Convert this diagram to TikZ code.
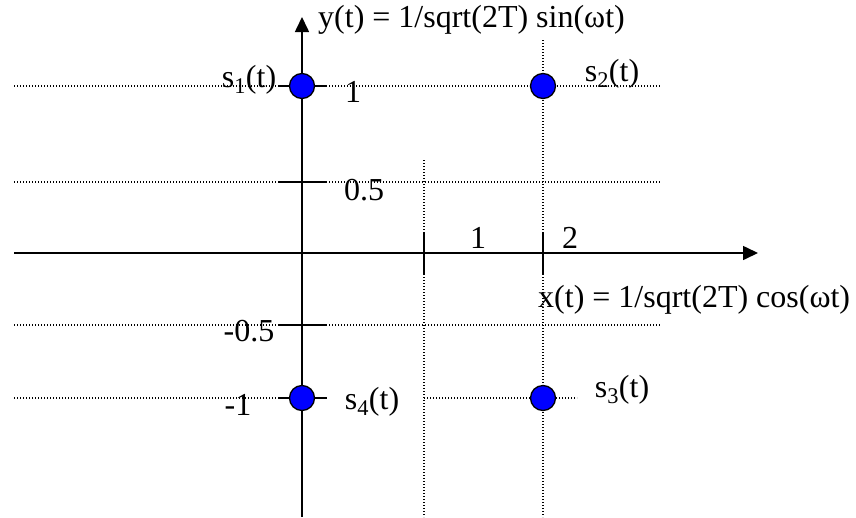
\documentclass[tikz,border=0pt]{standalone}
\usepackage{fontspec}
\setmainfont{Liberation Serif}
\usetikzlibrary{arrows.meta,positioning}
\definecolor{DotBlue}{HTML}{0000FF}

\begin{document}
\begin{tikzpicture}[
	x=1pt, y=-1pt,
	axis/.style={-{Triangle[length=15pt,width=14pt]}, line width=1.6pt},
	tick/.style={line width=1.6pt},
	gridline/.style={dash pattern=on 1.3pt off 1.7pt, line width=1.3pt},
	dot/.style={circle, draw, line width=1.3pt, fill=DotBlue, minimum size=25pt, inner sep=0pt},
	lbl/.style={font=\fontsize{32}{36}\selectfont, inner sep=0pt}
]
\useasboundingbox (0,0) rectangle (856,517);

\coordinate (xstart) at (14,253);
\coordinate (xend) at (758,253);
\coordinate (ystart) at (302,517);
\coordinate (yend) at (302,17);

\foreach \y/\xr in {86/660, 182/660, 325/660}
	\draw[gridline] (14,\y) -- (\xr,\y);
\draw[gridline] (14,398) -- (278,398);
\draw[gridline] (424,398) -- (577,398);
\draw[gridline] (424,160) -- (424,517);
\draw[gridline] (543,40) -- (543,517);

\foreach \y in {86, 182, 325, 398}
	\draw[tick] (278,\y) -- (327,\y);
\foreach \x in {424, 543}
	\draw[tick] (\x,232) -- (\x,274);

\draw[axis] (xstart) -- (xend);
\draw[axis] (ystart) -- (yend);

\node[dot] (s1) at (302,86) {};
\node[dot] (s2) at (543,86) {};
\node[dot] (s3) at (543,398) {};
\node[dot] (s4) at (302,398) {};

\node[lbl, anchor=west] (ylabel) at (318,20) {y(t) = 1/sqrt(2T) sin(ωt)};
\node[lbl, anchor=west] (xlabel) at (538,300) {x(t) = 1/sqrt(2T) cos(ωt)};

\node[lbl] (s1lbl) at (249,80) {s\textsubscript{1}(t)};
\node[lbl] (s2lbl) at (612,74) {s\textsubscript{2}(t)};
\node[lbl] (s3lbl) at (622,390) {s\textsubscript{3}(t)};
\node[lbl] (s4lbl) at (372,402) {s\textsubscript{4}(t)};

\node[lbl] (yone) at (353,92) {1};
\node[lbl] (yhalf) at (364,190) {0.5};
\node[lbl] (ymhalf) at (249,331) {-0.5};
\node[lbl] (ymone) at (238,405) {-1};
\node[lbl] (xone) at (478,238) {1};
\node[lbl] (xtwo) at (570,238) {2};
\end{tikzpicture}
\end{document}
